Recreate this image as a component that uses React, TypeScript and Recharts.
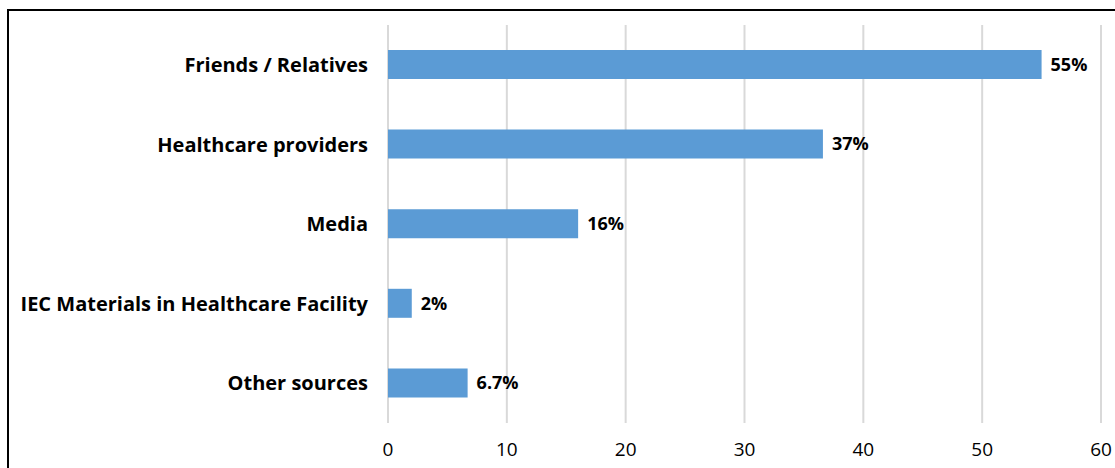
import { BarChart, Bar, XAxis, YAxis, CartesianGrid, LabelList } from "recharts";

const sources = [
  "Friends / Relatives",
  "Healthcare providers",
  "Media",
  "IEC Materials in Healthcare Facility",
  "Other sources",
];
const shares = [55, 36.6, 16, 2, 6.7];
const shareLabels = ["55%", "37%", "16%", "2%", "6.7%"];
const xTicks = [0, 10, 20, 30, 40, 50, 60];

const rows = sources.map((name, i) => ({ name, value: shares[i], label: shareLabels[i] }));

const font = "'Open Sans', sans-serif";

export default function App() {
  return (
    <div style={{ position: "absolute", left: 0, top: 0, width: 1115, height: 468, overflow: "hidden", background: "#fff" }}>
      <div
        style={{
          position: "absolute",
          left: 7,
          top: 9,
          width: 1200,
          height: 600,
          borderTop: "2px solid #000",
          borderLeft: "2px solid #000",
        }}
      />
      <div style={{ position: "absolute", left: 0, top: 0 }}>
        <BarChart
          width={1115}
          height={468}
          data={rows}
          layout="vertical"
          margin={{ top: 25, right: 14, bottom: 0, left: 0 }}
          barSize={29}
        >
          <CartesianGrid horizontal={false} stroke="#D9D9D9" strokeWidth={2} />
          <XAxis
            type="number"
            domain={[0, 60]}
            ticks={xTicks}
            axisLine={false}
            tickLine={false}
            tickMargin={14}
            height={45}
            tick={{ fill: "#000", fontSize: 19, fontFamily: font }}
          />
          <YAxis
            type="category"
            dataKey="name"
            width={388}
            axisLine={false}
            tickLine={false}
            tickMargin={14}
            tick={{ fill: "#000", fontSize: 20, fontWeight: 700, fontFamily: font }}
          />
          <Bar dataKey="value" fill="#5B9BD5" isAnimationActive={false}>
            <LabelList
              dataKey="label"
              position="right"
              offset={9}
              style={{ fill: "#000", fontSize: 18, fontWeight: 700, fontFamily: font }}
            />
          </Bar>
        </BarChart>
      </div>
    </div>
  );
}
